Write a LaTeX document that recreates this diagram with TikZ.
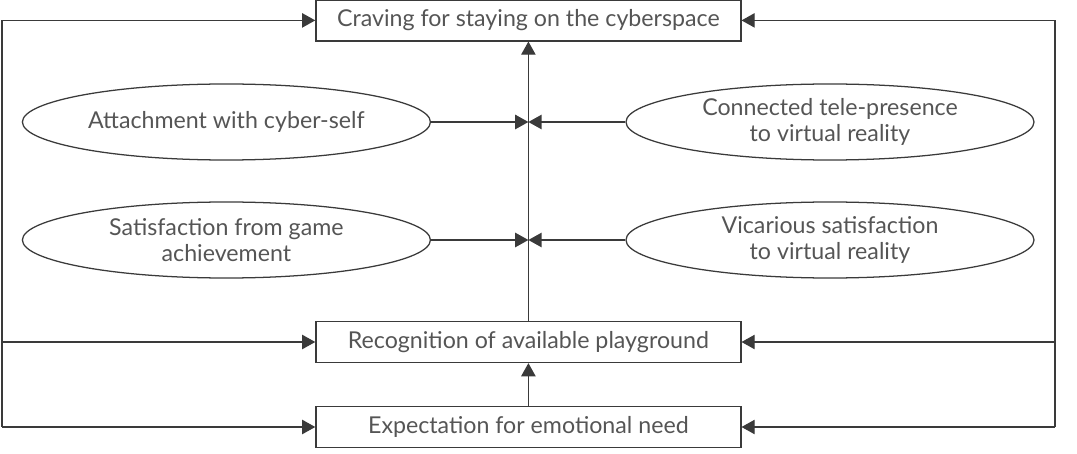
\documentclass[tikz,border=0pt]{standalone}
\usepackage{fontspec}
\setmainfont{Lato}
\usepackage{xcolor}
\usetikzlibrary{arrows.meta,positioning,shapes.geometric}
\definecolor{textgray}{HTML}{555555}
\definecolor{linegray}{HTML}{3A3A3A}

\begin{document}
\begin{tikzpicture}[
  >={Triangle[length=3.3mm,width=3.6mm]},
  line width=0.9pt,
  stagebox/.style={rectangle, draw=linegray, minimum width=10.625cm, minimum height=1.025cm, inner sep=0pt, align=center, text=textgray, font=\fontsize{16.5}{18}\selectfont},
  factor/.style={ellipse, draw=linegray, minimum width=10.2cm, minimum height=1.9cm, inner sep=0pt, align=center, text=textgray, font=\fontsize{16.5}{18}\selectfont},
  wire/.style={draw=linegray, line width=0.9pt},
  flow/.style={->, draw=linegray, line width=0.9pt}
]
  \useasboundingbox (0,0) rectangle (26.925,-11.35);
  % boxes
  \node[stagebox] (craving) at (13.21,-0.51) {Craving for staying on the cyberspace};
  \node[stagebox] (recog) at (13.21,-8.55) {Recognition of available playground};
  \node[stagebox] (expect) at (13.21,-10.675) {Expectation for emotional need};
  % factors
  \node[factor] (attach) at (5.66,-3.05) {Attachment with cyber-self};
  \node[factor] (telep) at (20.75,-3.05) {Connected tele-presence\\to virtual reality};
  \node[factor] (game) at (5.66,-6.0) {Satisfaction from game\\achievement};
  \node[factor] (vicar) at (20.75,-6.0) {Vicarious satisfaction\\to virtual reality};
  % rails
  \coordinate (lrail) at (0.05,0);
  \coordinate (rrail) at (26.375,0);
  \draw[wire] (lrail |- craving.west) -- (lrail |- expect.west);
  \draw[wire] (rrail |- craving.east) -- (rrail |- expect.east);
  \foreach \n in {craving,recog,expect} {
    \draw[flow] (lrail |- \n.west) -- (\n.west);
    \draw[flow] (rrail |- \n.east) -- (\n.east);
  }
  % centre
  \draw[flow] (recog.north) -- (craving.south);
  \draw[flow] (expect.north) -- (recog.south);
  \draw[flow] (attach.east) -- (attach.east -| craving.south);
  \draw[flow] (game.east) -- (game.east -| craving.south);
  \draw[flow] (telep.west) -- (telep.west -| craving.south);
  \draw[flow] (vicar.west) -- (vicar.west -| craving.south);
\end{tikzpicture}
\end{document}
